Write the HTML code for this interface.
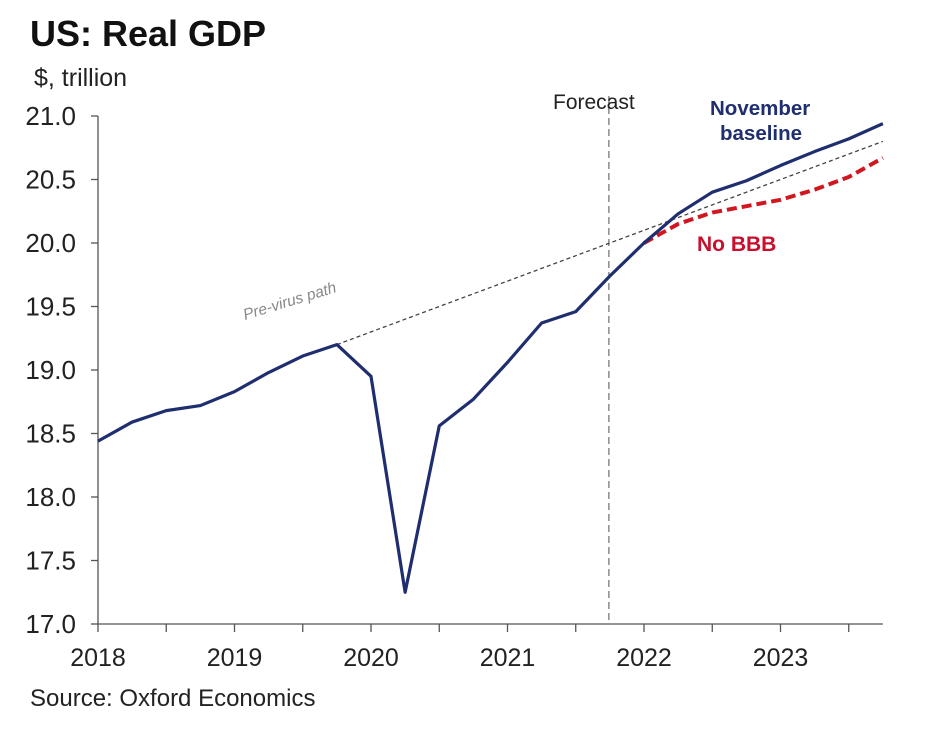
<!DOCTYPE html>
<html><head><meta charset="utf-8"><style>
body{margin:0;background:#fff;}
svg{display:block;font-family:"Liberation Sans",Arial,sans-serif;}
</style></head><body>
<svg id="chart" width="937" height="736">
<text x="30" y="46" font-size="36" font-weight="bold" fill="#111">US: Real GDP</text>
<text x="34" y="86" font-size="25" fill="#222">$, trillion</text>
<g id="axes"></g>
<g id="marks"></g>
<text x="553" y="109" font-size="21" fill="#222">Forecast</text>
<text x="710" y="115" font-size="20.5" font-weight="bold" fill="#1f2e6e">November</text>
<text x="720" y="140" font-size="20.5" font-weight="bold" fill="#1f2e6e">baseline</text>
<text x="697" y="251" font-size="21" font-weight="bold" fill="#c8102e">No BBB</text>
<text x="245" y="320" font-size="15.5" fill="#888" font-style="italic" transform="rotate(-17 245 320)">Pre-virus path</text>
<text x="30" y="706" font-size="24" fill="#222">Source: Oxford Economics</text>
</svg>
<script>
const baselineValues=[18.44,18.59,18.68,18.72,18.83,18.98,19.11,19.20,18.95,17.25,18.56,18.77,19.06,19.37,19.46,19.74,20.00,20.23,20.40,20.49,20.61,20.72,20.82,20.94];
const noBBBValues=[20.00,20.15,20.24,20.29,20.34,20.42,20.52,20.67];
const noBBBStart=2022.0;
const preVirus=[[2019.75,19.20],[2023.75,20.80]];
const forecastStart=2021.75;
const yTicks=[17.0,17.5,18.0,18.5,19.0,19.5,20.0,20.5,21.0];
const xYears=[2018,2019,2020,2021,2022,2023];
const ns="http://www.w3.org/2000/svg";
const X=t=>98+(t-2018)*136.5;
const Y=v=>624-(v-17)*127;
function mk(tag,attrs,parent){const e=document.createElementNS(ns,tag);for(const k in attrs)e.setAttribute(k,attrs[k]);parent.appendChild(e);return e;}
const axes=document.getElementById('axes'),marks=document.getElementById('marks');
let a=mk('line',{x1:98,y1:Y(21),x2:98,y2:624,stroke:'#555','stroke-width':1.3},axes);


a=mk('line',{x1:98,y1:624,x2:X(2023.75),y2:624,stroke:'#555','stroke-width':1.3},axes);


yTicks.forEach(v=>{
 const t=mk('line',{x1:91,y1:Y(v),x2:98,y2:Y(v),stroke:'#555','stroke-width':1.3},axes);
 
 
 const l=mk('text',{x:76,y:Y(v)+9,'font-size':26,fill:'#222','text-anchor':'end'},axes);
 l.textContent=v.toFixed(1);
 
 
});
for(let t=2018;t<=2023.75;t+=0.5){
 const k=mk('line',{x1:X(t),y1:624,x2:X(t),y2:632,stroke:'#555','stroke-width':1.3},axes);
 
 
}
xYears.forEach(yr=>{
 const l=mk('text',{x:X(yr),y:666,'font-size':25,fill:'#222','text-anchor':'middle'},axes);
 l.textContent=yr;
 
 
});
let f=mk('line',{x1:X(forecastStart)-1,y1:96,x2:X(forecastStart)-1,y2:624,stroke:'#777','stroke-width':1.3,'stroke-dasharray':'7,4'},marks);


let p=mk('line',{x1:X(preVirus[0][0]),y1:Y(preVirus[0][1]),x2:X(preVirus[1][0]),y2:Y(preVirus[1][1]),stroke:'#444','stroke-width':1.3,'stroke-dasharray':'4,3'},marks);


let nb=mk('polyline',{points:noBBBValues.map((v,i)=>X(noBBBStart+i*0.25)+','+Y(v)).join(' '),fill:'none',stroke:'#d0161e','stroke-width':4,'stroke-dasharray':'10,5'},marks);


let bl=mk('polyline',{points:baselineValues.map((v,i)=>X(2018+i*0.25)+','+Y(v)).join(' '),fill:'none',stroke:'#1f2e6e','stroke-width':3.2,'stroke-linejoin':'round'},marks);


</script>
</body></html>
